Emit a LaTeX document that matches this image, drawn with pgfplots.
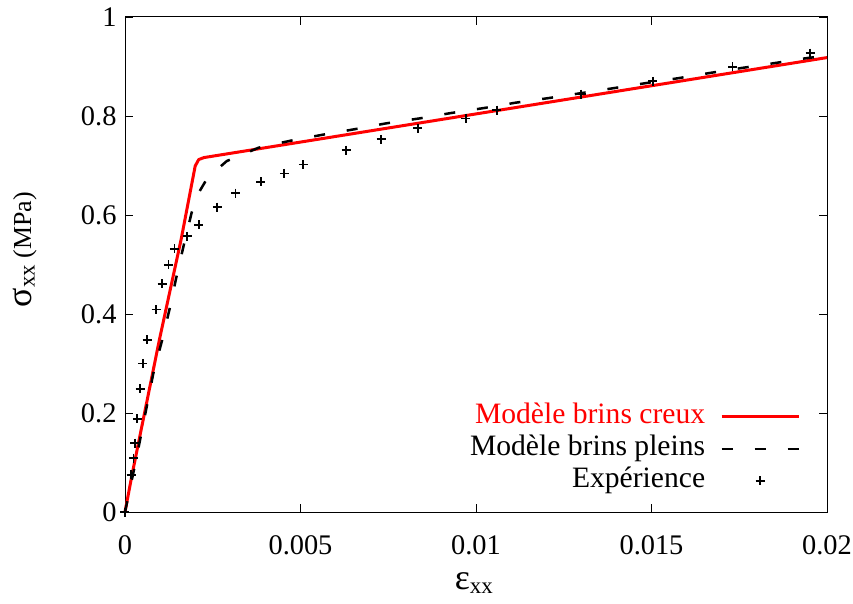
\documentclass[border=0pt]{standalone}
\usepackage{fontspec}
\setmainfont{Liberation Serif}
\usepackage{pgfplots}
\pgfplotsset{compat=1.18}
\pgfplotsset{
 lineleg/.style={legend image code/.code={\path (0bp,0bp); \draw[##1] (15bp,0bp) -- (92bp,0bp);}},
 markleg/.style={legend image code/.code={\path (0bp,0bp) (92bp,0bp); \draw[##1] plot coordinates {(53.5bp,0bp)};}},
}
\begin{document}
\begin{tikzpicture}
\begin{axis}[
 at={(0,0)}, anchor=origin,
 width=702bp, height=495bp, scale only axis,
 xmin=0, xmax=0.02, ymin=0, ymax=1,
 scaled x ticks=false, scaled y ticks=false,
 xtick={0,0.005,0.01,0.015,0.02}, xticklabels={0,0.005,0.01,0.015,0.02},
 ytick={0,0.2,0.4,0.6,0.8,1}, yticklabels={0,0.2,0.4,0.6,0.8,1},
 tick align=inside, major tick length=8bp,
 tick style={black, line width=0.8pt},
 axis line style={line width=1pt},
 ticklabel style={font=\fontsize{28.5}{32}\selectfont},
 xticklabel style={yshift=-20bp},
 yticklabel style={xshift=-5bp},
 xlabel={{\fontsize{36}{40}\selectfont ε}{\fontsize{23}{26}\selectfont\raisebox{-0.35ex}{xx}}},
 ylabel={{\fontsize{36}{40}\selectfont σ}{\fontsize{23}{26}\selectfont\raisebox{-0.35ex}{xx}}{\fontsize{26}{30}\selectfont\ (MPa)}},
 xlabel style={at={(axis description cs:0.497,-0.143)}, anchor=center},
 ylabel style={at={(axis description cs:-0.143,0.53)}, anchor=center},
 clip=false,
 legend style={draw=none, fill=none, font=\fontsize{29.7}{32}\selectfont,
   inner sep=0pt, nodes={inner sep=0pt, text height=20bp, text depth=6bp},
   at={(rel axis cs:0.962,0.036)}, anchor=south east, row sep=6bp},
 legend cell align=right, legend plot pos=right,
]
\addplot[red, line width=3bp, line join=round, lineleg]
 coordinates {(0,0)(0.0002,0.075)(0.00098,0.348)(0.0016,0.551)(0.002,0.699)(0.0021,0.712)(0.00225,0.716)(0.02,0.918)};
\addlegendentry{\textcolor{red}{Modèle brins creux}}
\addplot[black, line width=2.5bp, dash pattern=on 11bp off 22bp, lineleg]
 coordinates {(0,0)(0.0003,0.1)(0.00062,0.213)(0.00081,0.281)(0.00105,0.345)(0.00127,0.41)(0.00145,0.47)(0.00169,0.544)(0.0019,0.605)(0.0021,0.645)(0.00235,0.675)(0.0029,0.709)(0.00381,0.736)(0.00471,0.75)(0.00562,0.762)(0.00652,0.773)(0.00743,0.785)(0.00838,0.795)(0.00929,0.806)(0.01022,0.816)(0.01114,0.827)(0.01205,0.836)(0.01298,0.846)(0.0139,0.856)(0.0148,0.866)(0.01573,0.876)(0.01667,0.887)(0.01757,0.897)(0.01852,0.907)(0.01943,0.917)(0.02,0.922)};
\addlegendentry{Modèle brins pleins}
\addplot[black, only marks, mark=+, mark size=4.5bp, mark options={line width=1.8bp}, markleg]
 coordinates {(0,0)(0.000171,0.075)(0.00024,0.109)(0.00028,0.139)(0.00035,0.188)(0.00043,0.249)(0.00051,0.300)(0.00063,0.348)(0.00089,0.409)(0.00106,0.461)(0.00124,0.499)(0.00141,0.532)(0.00177,0.557)(0.00210,0.580)(0.00263,0.616)(0.00315,0.644)(0.00387,0.667)(0.00454,0.684)(0.00508,0.702)(0.00630,0.731)(0.00730,0.753)(0.00834,0.775)(0.00971,0.795)(0.01059,0.812)(0.0130,0.844)(0.01504,0.870)(0.01731,0.899)(0.01952,0.927)};
\addlegendentry{Expérience}
\end{axis}
\pgfresetboundingbox
\path (-125bp,-92bp) rectangle (728bp,512bp);
\end{tikzpicture}
\end{document}
